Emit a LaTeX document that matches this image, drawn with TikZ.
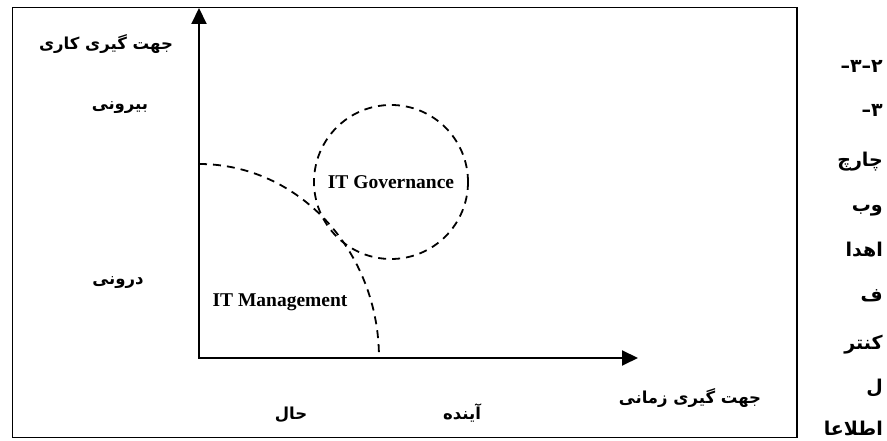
\documentclass[tikz,border=0pt]{standalone}
\usepackage{fontspec}
\TeXXeTstate=1
\newfontfamily\farsi[Script=Arabic]{DejaVu Sans}
\newfontfamily\latin{Liberation Serif}
\usetikzlibrary{arrows.meta}
% one glyph per box, so digits and dashes keep the order written here
\newcommand\gl[1]{\hbox{#1}}
\begin{document}
\begin{tikzpicture}[x=1pt,y=1pt,
  frameline/.style={line width=1.8pt},
  axisline/.style={line width=2pt,line join=miter,
    {Triangle[length=16pt,width=15pt]}-{Triangle[length=16pt,width=15pt]}},
  dashline/.style={line width=1.8pt,dash pattern=on 8pt off 6pt},
  falabel/.style={font=\farsi\bfseries\fontsize{16.5}{20}\selectfont,inner sep=0pt},
  sidelabel/.style={font=\farsi\bfseries\fontsize{19}{22}\selectfont,inner sep=0pt,anchor=east},
  enlabel/.style={font=\latin\bfseries\fontsize{19.5}{22}\selectfont,inner sep=0pt}]
\useasboundingbox (0,0) rectangle (887,441);

% outer frame
\draw[frameline] (12.5,3.5) rectangle (797,433.5);

% axes
\coordinate (O) at (199,83);
\coordinate (ytip) at (199,433);
\coordinate (xtip) at (638,83);
\draw[axisline] (ytip) -- (O) -- (xtip);

% management region boundary
\coordinate (arcstart) at (199,277);
\draw[dashline] (arcstart) arc[start angle=90,end angle=0,x radius=180,y radius=194];

% governance region
\node[circle,draw,dashline,minimum size=154pt,enlabel] (gov) at (391,259) {IT Governance};
\node[enlabel] (mgmt) at (280,139) {IT Management};

% axis labels
\node[falabel] (yaxis) at (106,397) {\beginR جهت گیری کاری\endR};
\node[falabel] (outer) at (120,333) {\beginR بیرونی\endR};
\node[falabel] (inner) at (118,158) {\beginR درونی\endR};
\node[falabel] (xaxis) at (690,43) {\beginR جهت گیری زمانی\endR};
\node[falabel] (now) at (291,26) {\beginR حال\endR};
\node[falabel] (future) at (462,28) {\beginR آینده\endR};

% heading set in a narrow column
\node[sidelabel] (h1) at (883,375) {\gl{–}\gl{۳}\gl{–}\gl{۲}};
\node[sidelabel] (h2) at (883,331) {\gl{–}\gl{۳}};
\node[sidelabel] (h3) at (883,279) {\beginR چارچ\endR};
\node[sidelabel] (h4) at (883,230) {\beginR وب\endR};
\node[sidelabel] (h5) at (883,191) {\beginR اهدا\endR};
\node[sidelabel] (h6) at (883,145) {\beginR ف\endR};
\node[sidelabel] (h7) at (883,96) {\beginR کنتر\endR};
\node[sidelabel] (h8) at (883,53) {\beginR ل\endR};
\node[sidelabel] (h9) at (883,13) {\beginR اطلاعا\endR};
\end{tikzpicture}
\end{document}
